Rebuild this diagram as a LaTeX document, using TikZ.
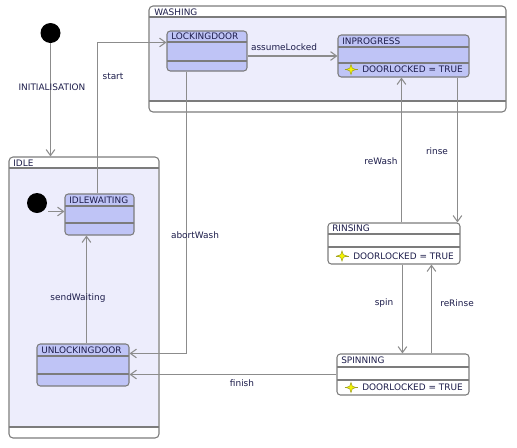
\documentclass[tikz,border=0pt]{standalone}
\usepackage{fontspec}
\setmainfont{DejaVu Sans}
\usetikzlibrary{arrows.meta,calc,fit}
\definecolor{stfill}{HTML}{BFC4F6}
\definecolor{cmpfill}{HTML}{EDEDFC}
\definecolor{bord}{HTML}{7C7C7C}
\definecolor{txt}{HTML}{1C1C4A}
\definecolor{arrc}{HTML}{8C8C8C}
\definecolor{stary}{HTML}{F4F400}
\definecolor{staro}{HTML}{A0A020}
\begin{document}
\begin{tikzpicture}[x=0.75pt,y=-0.75pt,
  every node/.style={font=\fontsize{6.7}{8}\selectfont, text=txt},
  statebox/.style={draw=bord, line width=0.8pt, rounded corners=2.5pt, fill=stfill, inner sep=0pt},
  whitebox/.style={statebox, fill=white},
  compbox/.style={draw=bord, line width=0.8pt, rounded corners=3pt, fill=white, inner sep=0pt},
  div/.style={draw=bord, line width=0.8pt},
  arr/.style={draw=arrc, line width=0.8pt, -{Straight Barb[length=4.5pt,width=6.5pt]}},
  lbl/.style={inner sep=0pt},
  ttl/.style={anchor=west, inner sep=0pt},
  initdot/.style={circle, fill=black, minimum size=15pt, inner sep=0pt},
  dlstar/.pic={
    \draw[staro, line width=0.5pt] (-6.5,0) -- (6.5,0);
    \filldraw[fill=stary, draw=staro, line width=0.4pt]
      (0,-5) -- (1.3,-1.3) -- (5,0) -- (1.3,1.3) -- (0,5) -- (-1.3,1.3) -- (-5,0) -- (-1.3,-1.3) -- cycle;
  },
]
\useasboundingbox (0,0) rectangle (517,447);

% ---------- composite WASHING ----------
\node[compbox, fit={(149,6) (506,112)}] (washing) {};
\fill[cmpfill] (149.6,17) rectangle (505.4,101);
\draw[div] (149,17) -- (506,17);
\draw[div] (149,101) -- (506,101);
\node[ttl] (washingt) at (154,12) {WASHING};

% ---------- composite IDLE ----------
\node[compbox, fit={(9,157) (159,438)}] (idle) {};
\fill[cmpfill] (9.6,168) rectangle (158.4,427);
\draw[div] (9,168) -- (159,168);
\draw[div] (9,427) -- (159,427);
\node[ttl] (idlet) at (13,163) {IDLE};

% ---------- initial states ----------
\node[initdot] (init) at (50.5,33) {};
\node[initdot] (init2) at (37,203) {};

% ---------- LOCKINGDOOR ----------
\node[statebox, fit={(167,31) (247,71)}] (lock) {};
\draw[div] (167,42) -- (247,42);
\draw[div] (167,61) -- (247,61);
\node[ttl] (lockt) at (171,36.5) {LOCKINGDOOR};

% ---------- INPROGRESS ----------
\node[statebox, fit={(338,35) (469,77)}] (inprog) {};
\draw[div] (338,47) -- (469,47);
\draw[div] (338,63) -- (469,63);
\node[ttl] (inprogt) at (342,41) {INPROGRESS};
\pic at (351,69.5) {dlstar};
\node[ttl] (inprogc) at (362,69.5) {DOORLOCKED = TRUE};

% ---------- IDLEWAITING ----------
\node[statebox, fit={(65,194) (134,235)}] (idlew) {};
\draw[div] (65,206) -- (134,206);
\draw[div] (65,223) -- (134,223);
\node[ttl] (idlewt) at (69,200) {IDLEWAITING};

% ---------- UNLOCKINGDOOR ----------
\node[statebox, fit={(37,344) (129,386)}] (unlock) {};
\draw[div] (37,356) -- (129,356);
\draw[div] (37,374) -- (129,374);
\node[ttl] (unlockt) at (41,350) {UNLOCKINGDOOR};

% ---------- RINSING ----------
\node[whitebox, fit={(328,223) (460,264)}] (rinsing) {};
\draw[div] (328,234) -- (460,234);
\draw[div] (328,247) -- (460,247);
\node[ttl] (rinsingt) at (332,228.5) {RINSING};
\pic at (342,256) {dlstar};
\node[ttl] (rinsingc) at (353,256) {DOORLOCKED = TRUE};

% ---------- SPINNING ----------
\node[whitebox, fit={(337,354) (469,395)}] (spinning) {};
\draw[div] (337,367) -- (469,367);
\draw[div] (337,380) -- (469,380);
\node[ttl] (spinningt) at (341,360.5) {SPINNING};
\pic at (351,387.5) {dlstar};
\node[ttl] (spinningc) at (362,387.5) {DOORLOCKED = TRUE};

% ---------- transitions ----------
\draw[arr] (init.south) -- (idle.north -| init.south);
\node[lbl] (initl) at (52,87) {INITIALISATION};

\draw[arr] ($(init2.center)+(11,8.5)$) coordinate (i2) -- (idlew.west |- i2);

\draw[arr] ($(idlew.north west)+(33,0)$) |- ($(lock.north west)+(0,12)$);
\node[lbl] (startl) at (113,76) {start};

\draw[arr] ($(lock.east)+(0,5)$) coordinate (al) -- (inprog.west |- al);
\node[lbl] (assumel) at (284,47.5) {assumeLocked};

\draw[arr] ($(lock.south west)+(20,0)$) |- ($(unlock.north east)+(0,10)$);
\node[lbl] (abortl) at (195,235) {abortWash};

\draw[arr] ($(unlock.north west)+(50,0)$) coordinate (sw) -- (idlew.south -| sw);
\node[lbl] (sendl) at (78,298) {sendWaiting};

\draw[arr] (spinning.west) -- (unlock.east |- spinning.west);
\node[lbl] (finishl) at (242,383) {finish};

\draw[arr] ($(rinsing.north west)+(74,0)$) coordinate (rw) -- (inprog.south -| rw);
\node[lbl] (rewashl) at (381,161) {reWash};

\draw[arr] ($(inprog.south west)+(120,0)$) coordinate (ri) -- (rinsing.north -| ri);
\node[lbl] (rinsel) at (437,151) {rinse};

\draw[arr] ($(rinsing.south west)+(75,0)$) coordinate (sp) -- (spinning.north -| sp);
\node[lbl] (spinl) at (384,303) {spin};

\draw[arr] ($(spinning.north west)+(95,0)$) coordinate (rr) -- (rinsing.south -| rr);
\node[lbl] (rerinsel) at (457,303) {reRinse};
\end{tikzpicture}
\end{document}
